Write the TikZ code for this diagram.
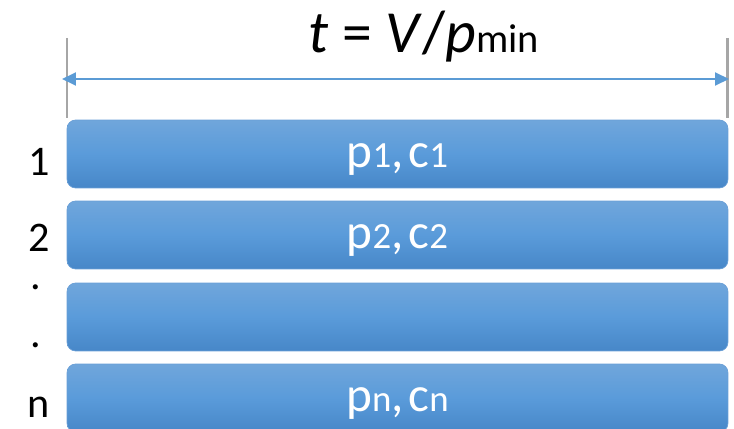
\documentclass[tikz,border=0pt]{standalone}
\usepackage{fontspec}
\setmainfont{Carlito}
\newfontfamily\barfont[LetterSpace=10]{Carlito}
\usepackage{xcolor}
\usetikzlibrary{positioning,arrows.meta}
\definecolor{bartop}{HTML}{70A6DB}
\definecolor{barmid}{HTML}{5A9BDA}
\definecolor{barbot}{HTML}{4787C8}
\definecolor{barline}{HTML}{6A9FD6}
\definecolor{spanblue}{HTML}{5B9BD5}
\definecolor{tickgray}{HTML}{A6A6A6}

\newcommand{\bigch}[1]{{\fontsize{28}{30}\selectfont #1}}
\newcommand{\lilch}[1]{{\fontsize{21}{24}\selectfont #1}}
\newcommand{\pair}[1]{\raisebox{-7.4pt}[0pt][0pt]{\bigch{p}\lilch{#1}\bigch{,}\bigch{c}\lilch{#1}}}

\begin{document}
\begin{tikzpicture}[
    x=0.02cm, y=-0.02cm,
    bar/.style={draw=barline, line width=0.4pt, top color=bartop, bottom color=barbot, middle color=barmid,
        minimum width=13.22cm, minimum height=1.36cm, rounded corners=0.17cm, inner sep=0pt,
        text=white, font=\barfont},
    rowlab/.style={anchor=base, font=\fontsize{24}{28}\selectfont, inner sep=0pt},
    tick/.style={draw=tickgray, line width=1.7pt},
    span/.style={{Triangle[length=2.8mm,width=2.6mm]}-{Triangle[length=2.8mm,width=2.6mm]}, draw=spanblue, fill=spanblue, line width=1.1pt}
]
    \useasboundingbox (0,0) rectangle (734,429);

    % title and span
    \node[anchor=base, inner sep=0pt] (title) at (424,53)
        {\fontsize{34}{36}\selectfont\textit{t} = \textit{V}/\textit{p}{\fontsize{23}{26}\selectfont min}};
    \coordinate (lt) at (67,38);
    \coordinate (lb) at (67,118);
    \coordinate (rt) at (727,38);
    \coordinate (rb) at (727,118);
    \draw[tick] (lt) -- (lb);
    \draw[tick] (rt) -- (rb);
    \coordinate (al) at (62,79);
    \coordinate (ar) at (729,79);
    \draw[span] (al) -- (ar);

    % rows
    \node[bar] (bar1) at (397.5,154) {\pair{1}};
    \node[bar] (bar2) at (397.5,235) {\pair{2}};
    \node[bar] (bar3) at (397.5,317) {};
    \node[bar] (bar4) at (397.5,398) {\pair{n}};

    % row labels
    \node[rowlab] (lab1) at (39,175) {1};
    \node[rowlab] (lab2) at (39,251) {2};
    \node[rowlab] (dot1) at (36,289) {.};
    \node[rowlab] (dot2) at (36,347) {.};
    \node[rowlab] (labn) at (39,417) {n};
\end{tikzpicture}
\end{document}
